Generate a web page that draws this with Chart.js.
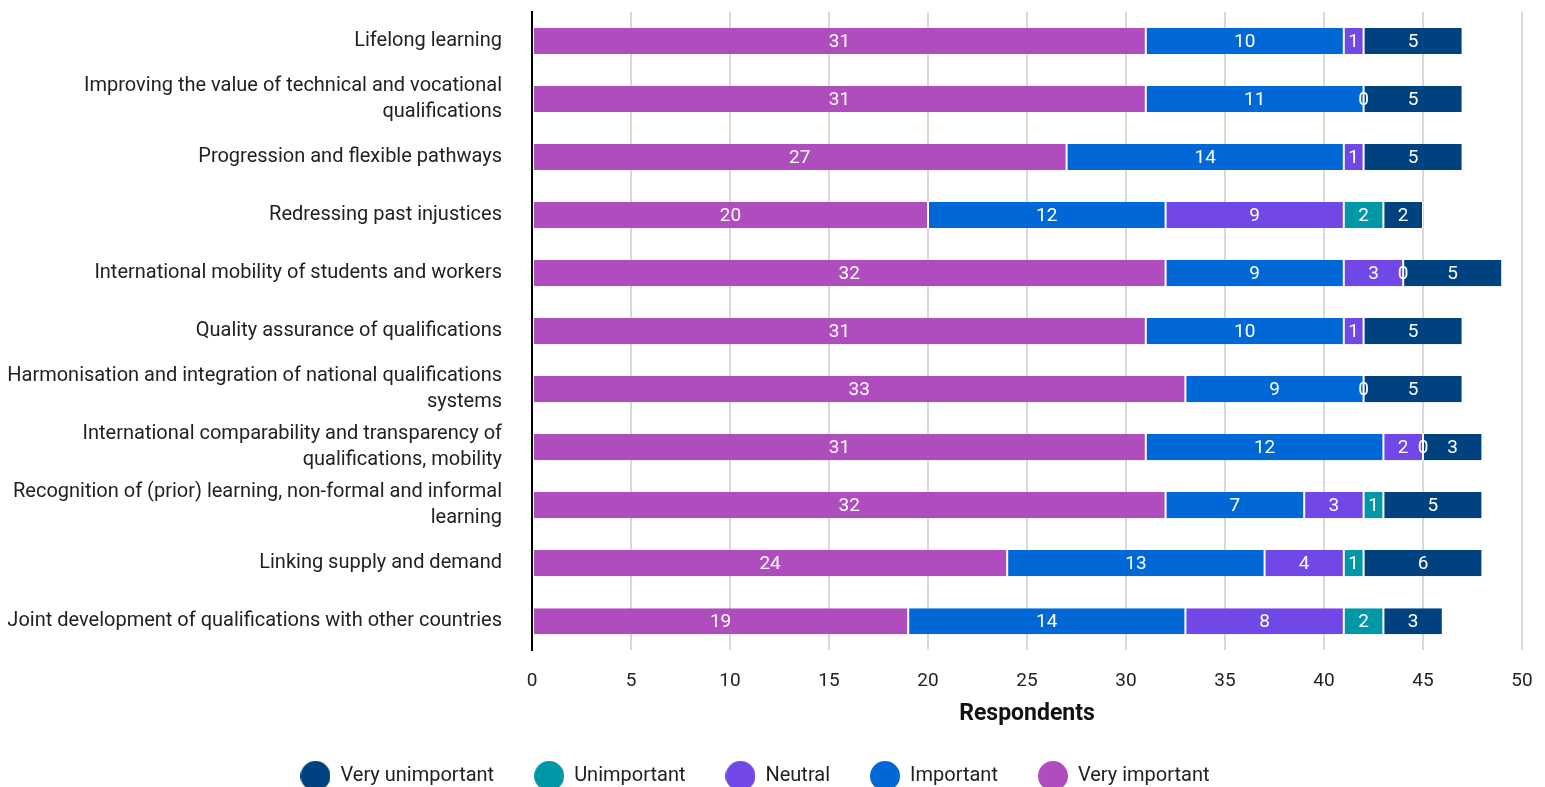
<!DOCTYPE html>
<html lang="en">
<head>
  <meta charset="UTF-8" />
  <title>Respondents by theme</title>
  <script src="https://cdn.jsdelivr.net/npm/chart.js"></script>
  <style>
    body {
      margin: 0;
      background: #fff;
      font-family: Roboto, Arial, sans-serif;
    }
    .chart-container {
      width: 1545px;
      height: 787px;
    }
  </style>
</head>
<body>
  <div class="chart-container">
    <canvas id="respondentsChart"></canvas>
  </div>

  <script>
    // themes (top to bottom)
    const themes = [
      'Lifelong learning',
      ['Improving the value of technical and vocational', 'qualifications'],
      'Progression and flexible pathways',
      'Redressing past injustices',
      'International mobility of students and workers',
      'Quality assurance of qualifications',
      ['Harmonisation and integration of national qualifications', 'systems'],
      ['International comparability and transparency of', 'qualifications, mobility'],
      ['Recognition of (prior) learning, non-formal and informal', 'learning'],
      'Linking supply and demand',
      'Joint development of qualifications with other countries'
    ];

    // respondents per rating (null = no answer recorded)
    const veryImportant   = [31, 31, 27, 20, 32, 31, 33, 31, 32, 24, 19];
    const important       = [10, 11, 14, 12, 9, 10, 9, 12, 7, 13, 14];
    const neutral         = [1, 0, 1, 9, 3, 1, 0, 2, 3, 4, 8];
    const unimportant     = [null, null, null, 2, 0, null, null, 0, 1, 1, 2];
    const veryUnimportant = [5, 5, 5, 2, 5, 5, 5, 3, 5, 6, 3];

    const xTicks = { min: 0, max: 50, step: 5 };

    // round legend markers, drawn once per colour
    function dot(color) {
      const c = document.createElement('canvas');
      c.width = 30; c.height = 30;
      const g = c.getContext('2d');
      g.fillStyle = color;
      g.beginPath();
      g.arc(15, 15, 15, 0, Math.PI * 2);
      g.fill();
      return c;
    }

    // value labels in the middle of each segment
    const segmentLabels = {
      id: 'segmentLabels',
      afterDatasetsDraw(chart) {
        const ctx = chart.ctx;
        ctx.save();
        ctx.font = '19px Roboto, Arial, sans-serif';
        ctx.fillStyle = '#ffffff';
        ctx.textAlign = 'center';
        ctx.textBaseline = 'middle';
        chart.data.datasets.forEach((ds, i) => {
          const meta = chart.getDatasetMeta(i);
          if (meta.hidden) return;
          meta.data.forEach((bar, j) => {
            const v = ds.data[j];
            if (v === null || v === undefined) return;
            const p = bar.getCenterPoint();
            ctx.fillText(String(v), p.x, p.y + 1);
          });
        });
        ctx.restore();
      }
    };

    // nudge the legend a bit left of centre
    const legendShift = {
      id: 'legendShift',
      afterLayout(chart) {
        if (!chart.legend) return;
        chart.legend.left -= 10;
        chart.legend.right -= 10;
      }
    };

    const seg = (label, data, color) => ({
      label,
      data,
      backgroundColor: color,
      borderColor: '#ffffff',
      borderWidth: { left: 1, right: 1, top: 0, bottom: 0 },
      borderSkipped: false,
      barPercentage: 0.45,
      categoryPercentage: 1
    });

    const defaultLabels = Chart.defaults.plugins.legend.labels.generateLabels;

    new Chart(document.getElementById('respondentsChart'), {
      type: 'bar',
      data: {
        labels: themes,
        datasets: [
          seg('Very important', veryImportant, '#b04dbe'),
          seg('Important', important, '#0068d6'),
          seg('Neutral', neutral, '#7247e8'),
          seg('Unimportant', unimportant, '#0098a6'),
          seg('Very unimportant', veryUnimportant, '#00417f')
        ]
      },
      options: {
        indexAxis: 'y',
        responsive: true,
        maintainAspectRatio: false,
        animation: false,
        layout: { padding: { top: 12, right: 23, left: 8, bottom: -9 } },
        scales: {
          x: {
            stacked: true,
            min: xTicks.min,
            max: xTicks.max,
            ticks: {
              stepSize: xTicks.step,
              padding: 20,
              color: '#222',
              font: { family: 'Roboto', size: 19 }
            },
            grid: { color: '#d9d9d9', lineWidth: 2, drawTicks: false },
            border: { display: false },
            title: {
              display: true,
              text: 'Respondents',
              color: '#111',
              font: { family: 'Roboto', size: 23, weight: 'bold', lineHeight: 1 },
              padding: { top: -10, bottom: 0 }
            },
            afterFit(scale) {
              scale.paddingRight = 0;
            }
          },
          y: {
            stacked: true,
            ticks: {
              autoSkip: false,
              padding: 30,
              color: '#222',
              font: { family: 'Roboto', size: 20, lineHeight: 1.3 }
            },
            grid: { display: false, drawTicks: false },
            border: { display: true, color: '#000', width: 2 },
            afterFit(scale) {
              scale.width = 524;
              scale.paddingTop = 0;
              scale.paddingBottom = 0;
            }
          }
        },
        plugins: {
          tooltip: { enabled: false },
          legend: {
            position: 'bottom',
            reverse: true,
            labels: {
              usePointStyle: true,
              pointStyleWidth: 30,
              padding: 40,
              color: '#222',
              font: { family: 'Roboto', size: 20 },
              generateLabels(chart) {
                return defaultLabels(chart).map(item => ({
                  ...item,
                  pointStyle: dot(item.fillStyle)
                }));
              }
            }
          }
        }
      },
      plugins: [segmentLabels, legendShift]
    });
  </script>
</body>
</html>
